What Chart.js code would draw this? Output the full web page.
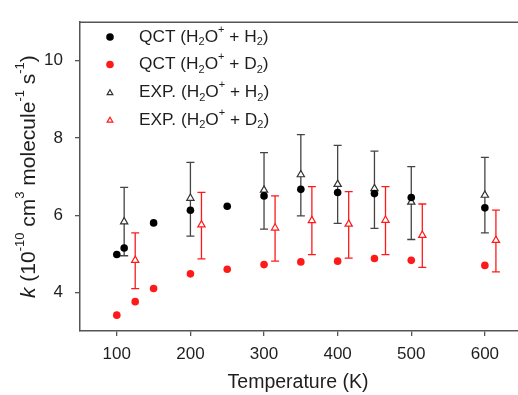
<!DOCTYPE html>
<html>
<head>
<meta charset="utf-8">
<script src="https://cdn.jsdelivr.net/npm/chart.js@4/dist/chart.umd.min.js"></script>
<style>
  html, body { margin: 0; padding: 0; background: #fff; overflow: hidden; }
  #wrap { width: 518px; height: 395px; }
</style>
</head>
<body>
<div id="wrap"><canvas id="chart" width="518" height="395"></canvas></div>
<script>
"use strict";

// temperatures (K) and rate constants (1e-10 cm3 molecule-1 s-1)
const qctH2T = [100, 110, 150, 200, 250, 300, 350, 400, 450, 500, 600];
const qctH2K = [4.98, 5.15, 5.80, 6.13, 6.23, 6.50, 6.67, 6.59, 6.56, 6.46, 6.19];

const qctD2T = [100, 125, 150, 200, 250, 300, 350, 400, 450, 500, 600];
const qctD2K = [3.41, 3.76, 4.10, 4.48, 4.60, 4.72, 4.79, 4.81, 4.88, 4.83, 4.70];

const expH2T = [110, 200, 300, 350, 400, 450, 500, 600];
const expH2K = [5.83, 6.44, 6.65, 7.05, 6.80, 6.69, 6.34, 6.52];
const expH2Hi = [6.72, 7.37, 7.62, 8.09, 7.81, 7.66, 7.26, 7.50];
const expH2Lo = [4.95, 5.46, 5.64, 5.98, 5.79, 5.66, 5.37, 5.54];

const expD2T = [125, 215, 315, 365, 415, 465, 515, 615];
const expD2K = [4.83, 5.75, 5.67, 5.86, 5.77, 5.87, 5.48, 5.35];
const expD2Hi = [5.54, 6.59, 6.50, 6.74, 6.61, 6.74, 6.29, 6.13];
const expD2Lo = [4.10, 4.87, 4.81, 4.98, 4.89, 4.98, 4.65, 4.53];

const xTicks = [100, 200, 300, 400, 500, 600];
const yTicks = [4, 6, 8, 10];

// labels use _x for subscript and ^x for superscript
const labels = ["QCT (H_2O^+ + H_2)", "QCT (H_2O^+ + D_2)", "EXP. (H_2O^+ + H_2)", "EXP. (H_2O^+ + D_2)"];

const FONT = "'Liberation Sans', Arial, sans-serif";
const TEXT = "#1e1e1e";
const AXIS = "#555";
const RED = "#ff1a1a";

function pts(xs, ys) {
  return xs.map((x, i) => ({ x: x, y: ys[i] }));
}

// break a label into normal / sub / sup pieces
function parseLabel(s) {
  let parts = [];
  let i = 0;
  while (i < s.length) {
    let c = s[i];
    if ((c === "_" || c === "^") && i + 1 < s.length) {
      parts.push({ t: s[i + 1], k: c === "_" ? "sub" : "sup" });
      i += 2;
    } else {
      if (parts.length && parts[parts.length - 1].k === "n") {
        parts[parts.length - 1].t += c;
      } else {
        parts.push({ t: c, k: "n" });
      }
      i++;
    }
  }
  return parts;
}

function drawRich(ctx, parts, x, y, size) {
  let small = Math.round(size * 0.62);
  for (let p of parts) {
    let f = p.italic ? "italic " : "";
    if (p.k === "n") {
      ctx.font = f + size + "px " + FONT;
      ctx.fillText(p.t, x, y);
    } else {
      ctx.font = f + small + "px " + FONT;
      let dy = p.k === "sub" ? size * 0.3 : -size * 0.42;
      ctx.fillText(p.t, x, y + dy);
    }
    x += ctx.measureText(p.t).width;
  }
  return x;
}

function richWidth(ctx, parts, size) {
  let small = Math.round(size * 0.62);
  let w = 0;
  for (let p of parts) {
    let f = p.italic ? "italic " : "";
    ctx.font = f + (p.k === "n" ? size : small) + "px " + FONT;
    w += ctx.measureText(p.t).width;
  }
  return w;
}

const errorBars = {
  id: "errorBars",
  beforeDatasetsDraw(chart) {
    const ctx = chart.ctx;
    const xs = chart.scales.x;
    const ys = chart.scales.y;
    const sets = [
      { t: expH2T, hi: expH2Hi, lo: expH2Lo, c: "#444" },
      { t: expD2T, hi: expD2Hi, lo: expD2Lo, c: RED }
    ];
    ctx.save();
    ctx.lineWidth = 1.3;
    for (let s of sets) {
      ctx.strokeStyle = s.c;
      for (let i = 0; i < s.t.length; i++) {
        let px = xs.getPixelForValue(s.t[i]);
        let top = ys.getPixelForValue(s.hi[i]);
        let bot = ys.getPixelForValue(s.lo[i]);
        ctx.beginPath();
        ctx.moveTo(px, top);
        ctx.lineTo(px, bot);
        ctx.moveTo(px - 4, top);
        ctx.lineTo(px + 4, top);
        ctx.moveTo(px - 4, bot);
        ctx.lineTo(px + 4, bot);
        ctx.stroke();
      }
    }
    ctx.restore();
  }
};

const decorations = {
  id: "decorations",
  afterDraw(chart) {
    const ctx = chart.ctx;
    const area = chart.chartArea;
    ctx.save();

    // top frame line
    ctx.strokeStyle = AXIS;
    ctx.lineWidth = 1.5;
    ctx.beginPath();
    ctx.moveTo(area.left, area.top);
    ctx.lineTo(area.right, area.top);
    ctx.stroke();

    // legend
    ctx.fillStyle = TEXT;
    ctx.textBaseline = "middle";
    ctx.textAlign = "left";
    const rowY = [37, 64.5, 92.5, 120];
    chart.data.datasets.forEach((ds, i) => {
      let y = rowY[i];
      ctx.save();
      ctx.fillStyle = ds.backgroundColor;
      ctx.strokeStyle = ds.borderColor;
      ctx.lineWidth = 1.2;
      if (ds.pointStyle === "triangle") {
        Chart.helpers.drawPoint(ctx, { pointStyle: "triangle", radius: 3.3, rotation: 0 }, 110, y + 0.5);
        ctx.fill();
        ctx.stroke();
      } else {
        ctx.beginPath();
        ctx.arc(110, y, 3.8, 0, Math.PI * 2);
        ctx.fill();
      }
      ctx.restore();
      ctx.fillStyle = TEXT;
      drawRich(ctx, parseLabel(labels[i]), 139, y, 17.3);
    });

    // x title
    ctx.textAlign = "left";
    ctx.font = "19.5px " + FONT;
    let xt = "Temperature (K)";
    let xw = ctx.measureText(xt).width;
    ctx.fillText(xt, 298 - xw / 2, 383);

    // y title, rotated
    let yParts = [
      { t: "k", k: "n", italic: true },
      { t: " (10", k: "n" },
      { t: "-10", k: "sup" },
      { t: " cm", k: "n" },
      { t: "3", k: "sup" },
      { t: " molecule", k: "n" },
      { t: "-1", k: "sup" },
      { t: " s", k: "n" },
      { t: "-1", k: "sup" },
      { t: ")", k: "n" }
    ];
    let yw = richWidth(ctx, yParts, 21);
    ctx.translate(29, (area.top + area.bottom) / 2);
    ctx.rotate(-Math.PI / 2);
    drawRich(ctx, yParts, -yw / 2, 0, 21);

    ctx.restore();
  }
};

const ctx = document.getElementById("chart").getContext("2d");

new Chart(ctx, {
  type: "scatter",
  data: {
    datasets: [
      {
        label: labels[0],
        data: pts(qctH2T, qctH2K),
        pointStyle: "circle",
        pointRadius: 3.8,
        backgroundColor: "#000",
        borderColor: "#000",
        borderWidth: 0
      },
      {
        label: labels[1],
        data: pts(qctD2T, qctD2K),
        pointStyle: "circle",
        pointRadius: 3.8,
        backgroundColor: RED,
        borderColor: RED,
        borderWidth: 0
      },
      {
        label: labels[2],
        data: pts(expH2T, expH2K),
        pointStyle: "triangle",
        pointRadius: 4.2,
        backgroundColor: "#fff",
        borderColor: "#333",
        borderWidth: 1.2
      },
      {
        label: labels[3],
        data: pts(expD2T, expD2K),
        pointStyle: "triangle",
        pointRadius: 4.2,
        backgroundColor: "#fff",
        borderColor: RED,
        borderWidth: 1.2
      }
    ]
  },
  options: {
    responsive: false,
    animation: false,
    devicePixelRatio: 1,
    layout: { autoPadding: false, padding: { top: 14, right: 0, bottom: 0, left: 0 } },
    plugins: {
      legend: { display: false },
      tooltip: { enabled: false }
    },
    scales: {
      x: {
        type: "linear",
        min: 50,
        max: 645,
        afterFit(scale) { scale.height = 64; },
        afterBuildTicks(scale) { scale.ticks = xTicks.map(v => ({ value: v })); },
        grid: { drawOnChartArea: false, drawTicks: true, tickLength: 5, color: AXIS, lineWidth: 1.3 },
        border: { display: true, color: AXIS, width: 1.5 },
        ticks: { color: TEXT, font: { family: FONT, size: 17 }, padding: 8, maxRotation: 0 }
      },
      y: {
        type: "linear",
        min: 3,
        max: 11,
        afterFit(scale) { scale.width = 80; },
        afterBuildTicks(scale) { scale.ticks = yTicks.map(v => ({ value: v })); },
        grid: { drawOnChartArea: false, drawTicks: true, tickLength: 5, color: AXIS, lineWidth: 1.3 },
        border: { display: true, color: AXIS, width: 1.5 },
        ticks: { color: TEXT, font: { family: FONT, size: 17 }, padding: 12 }
      }
    }
  },
  plugins: [errorBars, decorations]
});
</script>
</body>
</html>
